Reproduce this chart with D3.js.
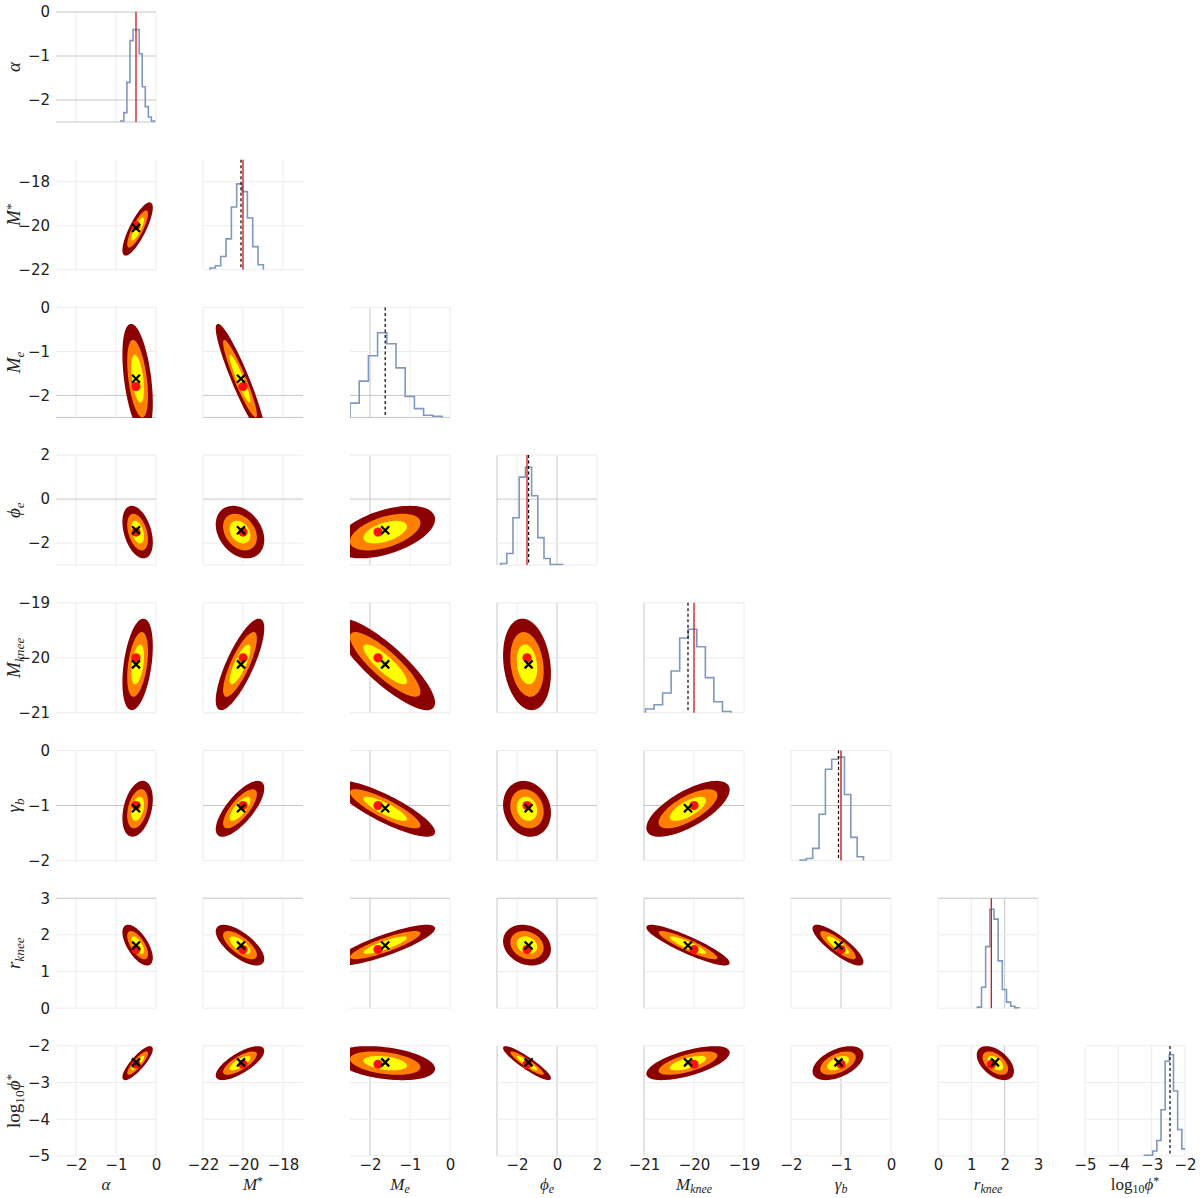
<!DOCTYPE html>
<html><head><meta charset="utf-8">
<script src="https://cdn.jsdelivr.net/npm/d3@7"></script>
<style>body{margin:0;background:#fff}</style>
</head><body><svg id="c" width="1200" height="1198"></svg>
<script>
// ---------- data ----------
const params = ["alpha","Mstar","Me","phie","Mknee","gammab","rknee","logphi"];
const domains = [[-2.5,0],[-22,-17],[-2.5,0],[-3,2],[-21,-19],[-2,0],[0,3],[-5,-2]];
const ticks = [[-2,-1,0],[-22,-20,-18],[-2,-1,0],[-2,0,2],[-21,-20,-19],[-2,-1,0],[0,1,2,3],[-5,-4,-3,-2]];
const gridX = [[-2,-1,0],[-22,-20,-18],[-2,-1,0],[-3,-2,0,2],[-21,-20,-19],[-2,-1,0],[0,1,2,3],[-5,-4,-3,-2]];
const gridY = [[0,-1,-2,-2.5],[-18,-20,-22],[0,-1,-2,-2.5],[2,0,-2,-3],[-19,-20,-21],[0,-1,-2],[3,2,1,0],[-2,-3,-4,-5]];
const strongX = [[],[],[-2],[-3,0],[-21],[-1],[2],[]];
const strongY = [[0,-1,-2,-2.5],[],[-2,-2.5],[0],[],[-1],[3],[]];

const truth  = [-0.5,-20.0,-1.8,-1.5,-20.0,-1.0,1.6,-2.5];
const median = [-0.5,-20.1,-1.62,-1.42,-20.12,-1.05,1.71,-2.45];
const showTruthLine  = [true,true,false,true,true,true,true,false];
const showMedianLine = [false,true,true,true,true,true,false,true];

const histStart = [-0.88,-21.65,-2.5,-2.82,-20.97,-1.82,1.18,-3.22];
const histWidth = [0.0765,0.267,0.23,0.31,0.171,0.127,0.125,0.125];
const histAlpha  = [0.009,0.085,0.36,0.74,0.84,0.84,0.62,0.32,0.14,0.045,0.009];
const histMstar  = [0.015,0.036,0.12,0.28,0.57,0.78,0.71,0.47,0.21,0.045];
const histMe     = [0.13,0.33,0.56,0.77,0.67,0.45,0.19,0.08,0.02,0.01];
const histPhie   = [0.015,0.106,0.43,0.80,0.89,0.63,0.25,0.06,0.006,0.006];
const histMknee  = [0.034,0.073,0.18,0.38,0.68,0.76,0.60,0.32,0.10,0.012];
const histGammab = [0.005,0.018,0.11,0.42,0.83,0.92,0.94,0.60,0.21,0.034];
const histRknee  = [0.01,0.19,0.56,0.90,0.81,0.43,0.17,0.055,0.018,0.003];
const histLogphi = [0.006,0.006,0.045,0.14,0.42,0.86,0.92,0.59,0.24,0.064];
const hists = [histAlpha,histMstar,histMe,histPhie,histMknee,histGammab,histRknee,histLogphi];

const contourMean  = [-0.46,-20.15,-1.62,-1.5,-20.12,-1.06,1.72,-2.47];
const contourSigma = [0.106,0.345,0.36,0.34,0.24,0.145,0.157,0.13];
const corr = [
  [],
  [0.82],
  [-0.45,-0.93],
  [-0.4,-0.3,0.5],
  [0.4,0.8,-0.85,-0.2],
  [0.35,0.75,-0.85,-0.15,0.7],
  [-0.65,-0.7,0.85,-0.2,-0.9,-0.85],
  [0.85,0.75,-0.35,-0.92,0.65,0.5,-0.5]
];
const levelRadius = [3.41,2.45,1.51];
const levelColor  = ["#8b0000","#ff8000","#ffff00"];

const labels = [
  [{t:"α",it:1}],
  [{t:"M",it:1},{t:"*",sup:1}],
  [{t:"M",it:1},{t:"e",sub:1,it:1}],
  [{t:"ϕ",it:1},{t:"e",sub:1,it:1}],
  [{t:"M",it:1},{t:"knee",sub:1,it:1}],
  [{t:"γ",it:1},{t:"b",sub:1,it:1}],
  [{t:"r",it:1},{t:"knee",sub:1,it:1}],
  [{t:"log",it:0},{t:"10",sub:1},{t:"ϕ",it:1},{t:"*",sup:1}]
];

// ---------- layout ----------
const n = params.length, W = 100, H = 110;
const colX = j => 56 + j*147;
const rowY = i => 12 + i*147.7;
const svg = d3.select("#c");
const xS = domains.map((d,j)=>d3.scaleLinear().domain(d).range([colX(j),colX(j)+W]));
const yS = domains.map((d,i)=>d3.scaleLinear().domain(d).range([rowY(i)+H,rowY(i)]));
const fmt = v => v<0 ? "\u2212"+Math.abs(v) : String(v);

const defs = svg.append("defs");
for(let i=0;i<n;i++) for(let j=0;j<=i;j++){
  defs.append("clipPath").attr("id",`cp${i}_${j}`).append("rect")
    .attr("x",colX(j)).attr("y",rowY(i)-1).attr("width",W).attr("height",H+1.5);
}

for(let i=0;i<n;i++){
  for(let j=0;j<=i;j++){
    const g = svg.append("g");
    const x = xS[j], y = yS[i];
    gridX[j].forEach(v=>{
      g.append("line").attr("x1",x(v)).attr("x2",x(v)).attr("y1",rowY(i)).attr("y2",rowY(i)+H)
        .attr("stroke", strongX[j].includes(v) ? "#c6c6c6" : "#ececec").attr("stroke-width",1);
    });
    gridY[i].forEach(v=>{
      g.append("line").attr("x1",colX(j)).attr("x2",colX(j)+W).attr("y1",y(v)).attr("y2",y(v))
        .attr("stroke", strongY[i].includes(v) ? "#c6c6c6" : "#ececec").attr("stroke-width",1);
    });
    const cg = g.append("g").attr("clip-path",`url(#cp${i}_${j})`);
    if(i===j){
      const hy = d3.scaleLinear().domain([0,1]).range([rowY(i)+H,rowY(i)]);
      const h = hists[i], s = histStart[i], w = histWidth[i];
      const pts = [[s,0]];
      h.forEach((v,k)=>{ pts.push([s+k*w,v],[s+(k+1)*w,v]); });
      pts.push([s+h.length*w,0]);
      cg.append("path").attr("d",d3.line().x(p=>x(p[0])).y(p=>hy(p[1]))(pts))
        .attr("fill","none").attr("stroke","#7f98bd").attr("stroke-width",1.6);
      if(showTruthLine[i]) cg.append("line").attr("x1",x(truth[i])).attr("x2",x(truth[i]))
        .attr("y1",rowY(i)).attr("y2",rowY(i)+H).attr("stroke","#d01818").attr("stroke-width",1.3);
      if(showMedianLine[i]) cg.append("line").attr("x1",x(median[i])).attr("x2",x(median[i]))
        .attr("y1",rowY(i)).attr("y2",rowY(i)+H).attr("stroke","#000").attr("stroke-width",1.2)
        .attr("stroke-dasharray","3,2.5");
    } else {
      const rho = corr[i][j];
      const mx = contourMean[j], my = contourMean[i], sx = contourSigma[j], sy = contourSigma[i];
      const ts = d3.range(0,96).map(k=>k/96*2*Math.PI);
      levelRadius.forEach((r,li)=>{
        const pts = ts.map(t=>{
          const u = Math.cos(t), v = rho*Math.cos(t)+Math.sqrt(1-rho*rho)*Math.sin(t);
          return [mx + r*sx*u, my + r*sy*v];
        });
        cg.append("path").attr("d",d3.line().x(p=>x(p[0])).y(p=>y(p[1])).curve(d3.curveLinearClosed)(pts))
          .attr("fill",levelColor[li]).attr("stroke",li===0?"#8b0000":"none").attr("stroke-width",1.5);
      });
      cg.append("circle").attr("cx",x(truth[j])).attr("cy",y(truth[i])).attr("r",4.6).attr("fill","#ff1010");
      const cx = x(median[j]), cy = y(median[i]), a = 4;
      cg.append("path").attr("d",`M${cx-a},${cy-a}L${cx+a},${cy+a}M${cx-a},${cy+a}L${cx+a},${cy-a}`)
        .attr("stroke","#000").attr("stroke-width",2.2).attr("fill","none");
    }
  }
}

// ---------- axes ----------
function styleAxis(sel){
  sel.select(".domain").remove();
  sel.selectAll("text").attr("font-family","DejaVu Sans, sans-serif").attr("font-size",15).attr("fill","#222");
}
for(let i=0;i<n;i++){
  svg.append("g").attr("transform",`translate(${colX(0)},0)`)
    .call(d3.axisLeft(yS[i]).tickValues(ticks[i]).tickSize(0).tickPadding(6).tickFormat(fmt))
    .call(styleAxis);
}
for(let j=0;j<n;j++){
  svg.append("g").attr("transform",`translate(0,${rowY(n-1)+H})`)
    .call(d3.axisBottom(xS[j]).tickValues(ticks[j]).tickSize(0).tickPadding(3).tickFormat(fmt))
    .call(styleAxis);
}

function mathLabel(g, parts, size){
  const t = g.append("text").attr("font-family","Liberation Serif, DejaVu Serif, serif")
    .attr("font-size",size).attr("fill","#262626").attr("text-anchor","middle");
  let off = 0;
  parts.forEach(p=>{
    let target = 0;
    if(p.sub) target = size*0.2; else if(p.sup) target = -size*0.28;
    t.append("tspan").text(p.t).attr("dy",target-off)
      .attr("font-style",p.it?"italic":"normal")
      .attr("font-size",(p.sub||p.sup)?size*0.7:size);
    off = target;
  });
  return t;
}
for(let i=0;i<n;i++){
  const g = svg.append("g").attr("transform",`translate(20,${rowY(i)+H/2}) rotate(-90)`);
  mathLabel(g, labels[i], 19);
}
for(let j=0;j<n;j++){
  const g = svg.append("g").attr("transform",`translate(${colX(j)+W/2},1190)`);
  mathLabel(g, labels[j], 17);
}
</script></body></html>
